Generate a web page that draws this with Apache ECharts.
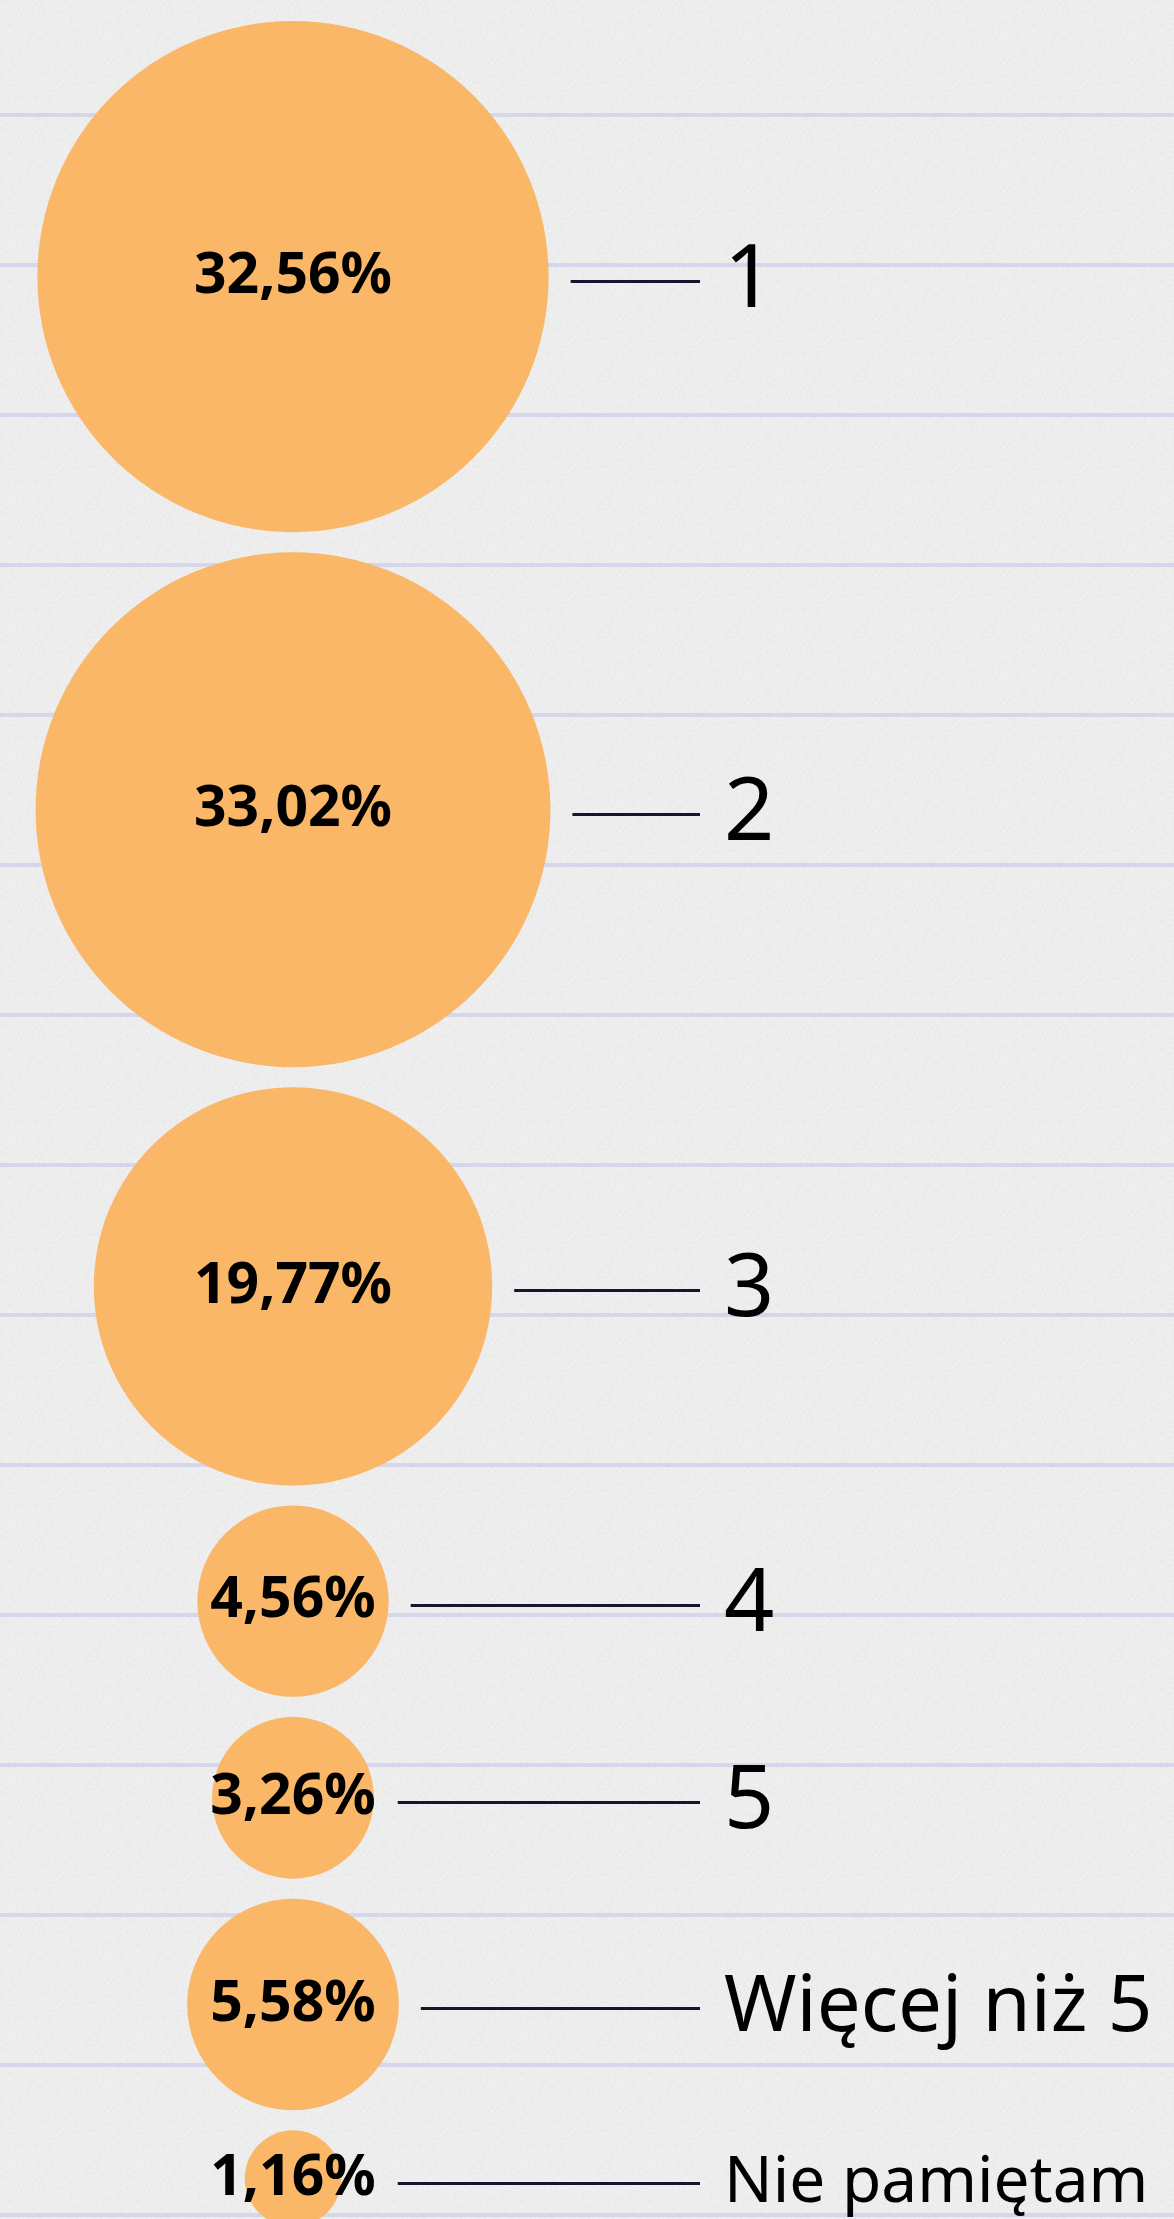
<!DOCTYPE html>
<html>
<head>
<meta charset="utf-8">
<script src="https://cdn.jsdelivr.net/npm/echarts@6/dist/echarts.min.js"></script>
<style>
html,body{margin:0;padding:0;background:#ececec;}
#c{width:1174px;height:2219px;}
</style>
</head>
<body>
<div id="c"></div>
<script>
// ---- data ----
const categories = ['1', '2', '3', '4', '5', 'Więcej niż 5', 'Nie pamiętam'];
const shares = [32.56, 33.02, 19.77, 4.56, 3.26, 5.58, 1.16];
const valueLabels = ['32,56%', '33,02%', '19,77%', '4,56%', '3,26%', '5,58%', '1,16%'];

// ---- styles ----
const catFontSizes = [88, 88, 88, 88, 88, 78, 64];
const BUBBLE_COLOR = '#F9B767';
const LINE_COLOR = '#15152d';
const PCT_FONT = 'bold 57px "Noto Sans"';
const RADIUS_K = 44.8;   // px per sqrt(percent)
const GAP = 20, TOP = 21, CX = 293, LINE_END = 700, CAT_X = 724;

// bubbles stacked vertically, each sized from its value
let cursor = TOP;
const layoutData = shares.map(function (v, i) {
  const r = RADIUS_K * Math.sqrt(v);
  const cy = cursor + r;
  cursor = cy + r + GAP;
  return [CX, cy, v, i];
});

const mctx = document.createElement('canvas').getContext('2d');
function textWidth(t, font) { mctx.font = font; return mctx.measureText(t).width; }

// subtle paper texture (deterministic hash noise, decoration only)
const tex = document.createElement('canvas');
tex.width = 128; tex.height = 128;
(function () {
  const tctx = tex.getContext('2d');
  const img = tctx.createImageData(128, 128);
  for (let y = 0; y < 128; y++) {
    for (let x = 0; x < 128; x++) {
      let h = (x * 374761393 + y * 668265263) | 0;
      h = Math.imul(h ^ (h >>> 13), 1274126177);
      h = (h ^ (h >>> 16)) >>> 0;
      const n = (h % 9) - 4;
      const v = 237 + n;
      const p = (y * 128 + x) * 4;
      img.data[p] = v; img.data[p + 1] = v; img.data[p + 2] = v; img.data[p + 3] = 255;
    }
  }
  tctx.putImageData(img, 0, 0);
})();

// ruled paper lines (decoration)
const decor = [{
  type: 'rect', z: -2, silent: true,
  shape: { x: 0, y: 0, width: 1174, height: 2219 },
  style: { fill: { image: tex, repeat: 'repeat' } }
}];
for (let k = 0; k < 15; k++) {
  const y = 115 + 150 * k;
  decor.push({
    type: 'line', z: -1, silent: true,
    shape: { x1: 0, y1: y, x2: 1174, y2: y },
    style: { stroke: 'rgba(180,184,230,0.42)', lineWidth: 4 }
  });
}

const chart = echarts.init(document.getElementById('c'), null, { renderer: 'canvas' });
chart.setOption({
  backgroundColor: '#ececec',
  animation: false,
  grid: { left: 0, right: 0, top: 0, bottom: 0 },
  xAxis: { type: 'value', min: 0, max: 1174, show: false },
  yAxis: { type: 'value', min: 0, max: 2219, inverse: true, show: false },
  graphic: { elements: decor },
  series: [{
    type: 'custom',
    data: layoutData,
    encode: { x: 0, y: 1 },
    clip: false,
    renderItem: function (params, api) {
      const i = api.value(3);
      const c = api.coord([api.value(0), api.value(1)]);
      const r = api.size([RADIUS_K * Math.sqrt(api.value(2)), 0])[0];
      const lbl = valueLabels[i];
      const lw = textWidth(lbl, PCT_FONT);
      const x1 = Math.max(c[0] + r, c[0] + lw / 2) + 22;
      const x2 = api.coord([LINE_END, 0])[0];
      const ly = Math.round(c[1] + 4) + 0.5;
      return {
        type: 'group',
        children: [
          { type: 'circle', shape: { cx: c[0], cy: c[1], r: r }, style: { fill: BUBBLE_COLOR } },
          { type: 'text', style: { text: lbl, x: c[0], y: c[1], align: 'center', verticalAlign: 'middle', font: PCT_FONT, fill: '#000' } },
          { type: 'line', shape: { x1: x1, y1: ly, x2: x2, y2: ly }, style: { stroke: LINE_COLOR, lineWidth: 3 } },
          { type: 'text', style: { text: categories[i], x: api.coord([CAT_X, 0])[0], y: ly, align: 'left', verticalAlign: 'middle', font: catFontSizes[i] + 'px "Noto Sans"', fill: '#000' } }
        ]
      };
    }
  }]
});
</script>
</body>
</html>
